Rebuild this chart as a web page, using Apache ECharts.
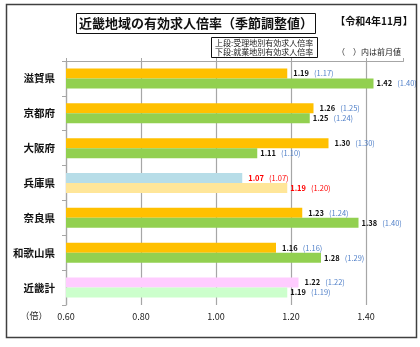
<!DOCTYPE html>
<html>
<head>
<meta charset="utf-8">
<script src="https://cdn.jsdelivr.net/npm/echarts@6/dist/echarts.min.js"></script>
<style>
  html, body { margin: 0; padding: 0; background: #fff; }
  #chart { width: 420px; height: 347px; }
</style>
</head>
<body>
<div id="chart"></div>
<script>
// 近畿地域の有効求人倍率（季節調整値） 令和4年11月
const categories = ['滋賀県', '京都府', '大阪府', '兵庫県', '奈良県', '和歌山県', '近畿計'];
// 上段：受理地別有効求人倍率（当月・前月）
const upperValues = [1.19, 1.26, 1.30, 1.07, 1.23, 1.16, 1.22];
const upperPrev   = [1.17, 1.25, 1.30, 1.07, 1.24, 1.16, 1.22];
// 下段：就業地別有効求人倍率（当月・前月）
const lowerValues = [1.42, 1.25, 1.11, 1.19, 1.38, 1.28, 1.19];
const lowerPrev   = [1.40, 1.24, 1.10, 1.20, 1.40, 1.29, 1.19];
// 横軸の目盛
const axisMin = 0.6, axisMax = 1.5, axisStep = 0.2;

const upperColors = ['#FFC000', '#FFC000', '#FFC000', '#B7DDE8', '#FFC000', '#FFC000', '#FFCCFF'];
const lowerColors = ['#92D050', '#92D050', '#92D050', '#FFE699', '#92D050', '#92D050', '#CCFFCC'];
const highlightIdx = 3; // 兵庫県は赤字表示

const FONT = '"Noto Sans CJK JP", "Noto Sans", sans-serif';

function barData(values, prev, colors) {
  return values.map((v, i) => ({
    value: v,
    prev: prev[i],
    itemStyle: { color: colors[i] }
  }));
}

function labelFormatter(p) {
  const v = p.data.value.toFixed(2);
  const pv = p.data.prev.toFixed(2);
  if (p.dataIndex === highlightIdx) return `{vr|${v}}{gap|}{pr|(${pv})}`;
  return `{v|${v}}{gap|}{p|(${pv})}`;
}

const labelRich = {
  v:   { fontFamily: FONT, fontSize: 7.5, fontWeight: 'bold', color: '#111' },
  p:   { fontFamily: FONT, fontSize: 7.5, color: '#4F7FC8' },
  vr:  { fontFamily: FONT, fontSize: 7.5, fontWeight: 'bold', color: '#FF0000' },
  pr:  { fontFamily: FONT, fontSize: 7.5, color: '#FF0000' },
  gap: { width: 5 }
};

const chart = echarts.init(document.getElementById('chart'), null, { renderer: 'canvas' });

chart.setOption({
  animation: false,
  backgroundColor: '#fff',
  textStyle: { fontFamily: FONT },
  grid: { left: 66, top: 61, right: 16.5, bottom: 42 },
  xAxis: [
    {
      type: 'value', position: 'bottom',
      min: axisMin, max: axisMax, interval: axisStep,
      axisLine: { show: false },
      axisTick: { show: false },
      axisLabel: {
        margin: 7, fontSize: 9, color: '#222', fontFamily: FONT,
        showMaxLabel: false,
        formatter: v => (Math.abs(v - axisMax) < 1e-6 ? '' : v.toFixed(2))
      },
      splitLine: { show: true, showMaxLine: false, lineStyle: { color: '#A6A6A6', width: 1.2 } }
    },
    {
      type: 'value', position: 'top',
      min: axisMin, max: axisMax, interval: axisStep,
      axisLine: { show: true, lineStyle: { color: '#A6A6A6', width: 1 } },
      axisTick: { show: true, length: 3, lineStyle: { color: '#A6A6A6' } },
      axisLabel: { show: false },
      splitLine: { show: false }
    }
  ],
  yAxis: {
    type: 'category',
    data: categories,
    inverse: true,
    axisLine: { show: true, lineStyle: { color: '#A6A6A6', width: 1.2 } },
    axisTick: { show: true, length: 4, lineStyle: { color: '#A6A6A6' } },
    axisLabel: { margin: 11, fontSize: 10.5, fontWeight: 'bold', color: '#111', fontFamily: FONT }
  },
  series: [
    {
      name: '受理地別',
      type: 'bar',
      barWidth: 10,
      barGap: '0%',
      data: barData(upperValues, upperPrev, upperColors),
      label: { show: true, position: 'right', distance: 6, formatter: labelFormatter, rich: labelRich }
    },
    {
      name: '就業地別',
      type: 'bar',
      barWidth: 10,
      barGap: '0%',
      data: barData(lowerValues, lowerPrev, lowerColors),
      label: { show: true, position: 'right', distance: 3, formatter: labelFormatter, rich: labelRich }
    }
  ],
  graphic: [
    // 外枠
    { type: 'rect', shape: { x: 6.5, y: 4.5, width: 410, height: 333 },
      style: { fill: 'none', stroke: '#404040', lineWidth: 1.5 }, z: 10 },
    // 表題
    { type: 'rect', shape: { x: 76.5, y: 13.5, width: 239, height: 20 },
      style: { fill: '#fff', stroke: '#111', lineWidth: 1 }, z: 10 },
    { type: 'text', x: 196, y: 23.5, z: 11,
      style: { text: '近畿地域の有効求人倍率（季節調整値）', font: 'bold 13px ' + FONT,
               fill: '#111', textAlign: 'center', textVerticalAlign: 'middle' } },
    { type: 'text', x: 374, y: 21, z: 11,
      style: { text: '【令和4年11月】', font: 'bold 10px ' + FONT,
               fill: '#111', textAlign: 'center', textVerticalAlign: 'middle' } },
    // 凡例
    { type: 'rect', shape: { x: 211.5, y: 37.5, width: 106, height: 20 },
      style: { fill: '#fff', stroke: '#111', lineWidth: 1 }, z: 10 },
    { type: 'text', x: 215, y: 43, z: 11,
      style: { text: '上段:受理地別有効求人倍率', font: '8px ' + FONT,
               fill: '#222', textAlign: 'left', textVerticalAlign: 'middle' } },
    { type: 'text', x: 215, y: 52, z: 11,
      style: { text: '下段:就業地別有効求人倍率', font: '8px ' + FONT,
               fill: '#222', textAlign: 'left', textVerticalAlign: 'middle' } },
    { type: 'text', x: 369, y: 52, z: 11,
      style: { text: '（　）内は前月値', font: '8px ' + FONT,
               fill: '#222', textAlign: 'center', textVerticalAlign: 'middle' } },
    // 単位
    { type: 'text', x: 34, y: 316, z: 11,
      style: { text: '（倍）', font: '9px ' + FONT,
               fill: '#222', textAlign: 'center', textVerticalAlign: 'middle' } }
  ]
});
</script>
</body>
</html>
